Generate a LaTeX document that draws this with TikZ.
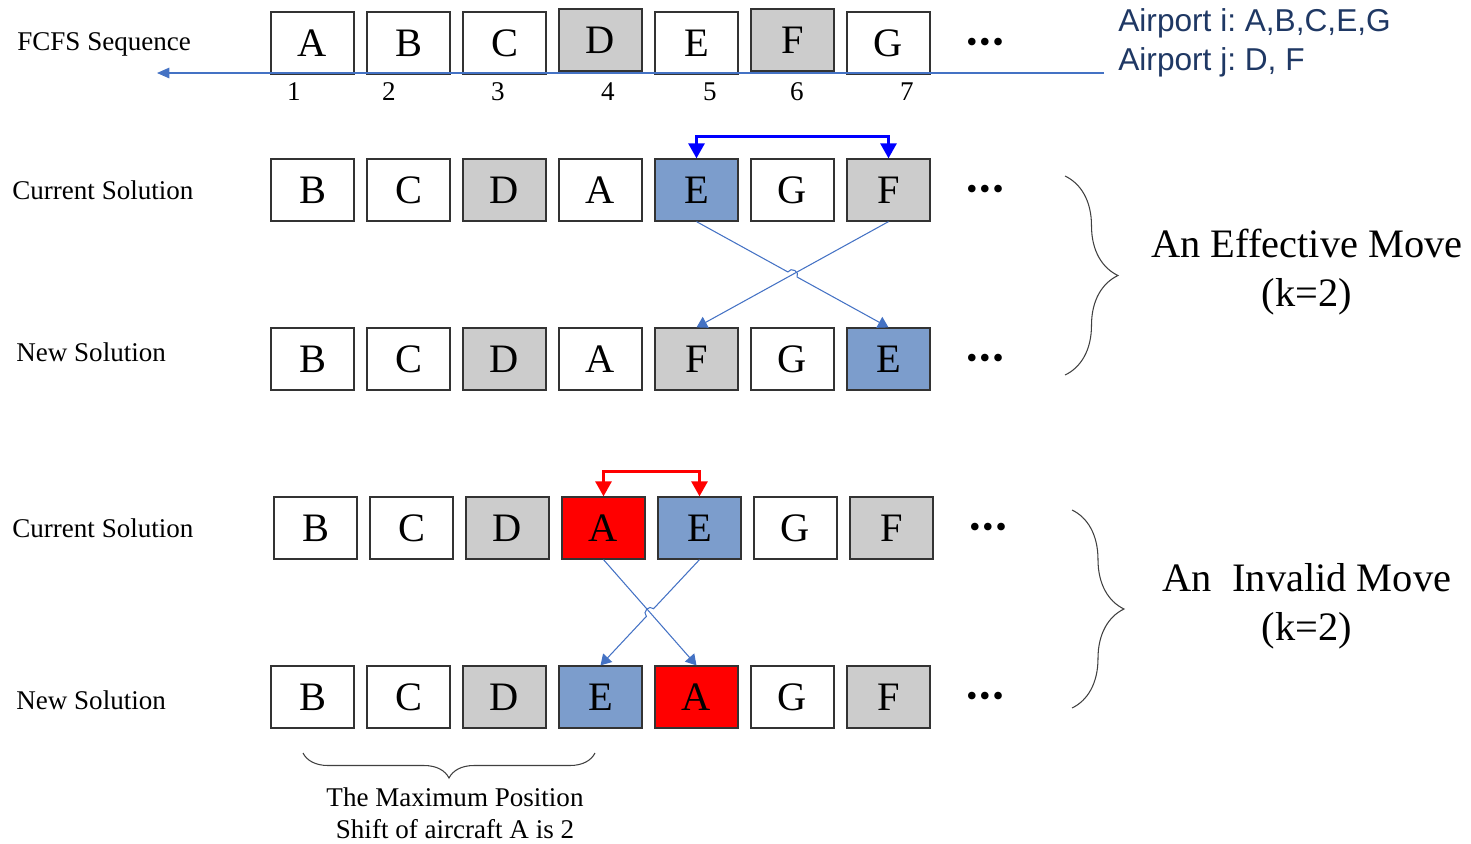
\documentclass[tikz,border=0pt]{standalone}
\usepackage{fontspec}
\setmainfont{Liberation Serif}
\newfontfamily\notefont{Liberation Sans}
\usetikzlibrary{arrows.meta,calc,decorations.pathreplacing}
\frenchspacing

\definecolor{slotgrey}{RGB}{204,204,204}
\definecolor{slotblue}{RGB}{124,157,204}
\definecolor{seqblue}{RGB}{68,114,196}
\definecolor{notenavy}{RGB}{31,56,100}
\definecolor{swapblue}{RGB}{0,0,255}
\definecolor{swapred}{RGB}{255,0,0}

\newcommand\moreslots{•\hspace{1.2pt}•\hspace{1.2pt}•}

\tikzset{
  slot/.style={draw=black!80,line width=0.7pt,minimum width=1.66cm,minimum height=1.24cm,
    inner sep=0pt,font=\fontsize{23}{27}\selectfont},
  apti/.style={fill=white},
  aptj/.style={fill=slotgrey},
  moved/.style={fill=slotblue},
  bad/.style={fill=swapred},
  rowlabel/.style={anchor=base west,inner sep=0pt,font=\fontsize{15.4}{18}\selectfont},
  posnum/.style={inner sep=0pt,font=\fontsize{15.4}{18}\selectfont},
  moredots/.style={inner sep=0pt,font=\fontsize{18}{22}\selectfont},
  movetext/.style={align=center,inner sep=0pt,font=\fontsize{23}{28}\selectfont},
  swaparrow/.style={line width=1.7pt,{Triangle[length=8.5pt,width=9pt]}-{Triangle[length=8.5pt,width=9pt]}},
  moveline/.style={seqblue,line width=0.6pt,-{Triangle[length=6pt,width=7pt]}},
  bracket/.style={draw=black!75,line width=0.6pt,decorate,decoration={brace,amplitude=#1}},
}

\begin{document}
\begin{tikzpicture}[x=0.02cm,y=-0.02cm]
  \useasboundingbox (0,0) rectangle (1471,843);

  % FCFS order with position numbers
  \foreach \lab/\kind/\dy [count=\i] in {A/apti/0,B/apti/0,C/apti/0,D/aptj/-3,E/apti/0,F/aptj/-3,G/apti/0}
    \node[slot,\kind] (fcfs-\i) at ({312.5+96*(\i-1)},{43+\dy}) {\lab};
  \foreach \x [count=\i] in {294,389,498,608,710,797,907}
    \node[posnum] (num-\i) at (\x,92) {\i};
  \coordinate (seq-in) at (1104,73);
  \coordinate (seq-out) at (157,73);
  \draw[seqblue,line width=0.6pt,-{Triangle[length=7pt,width=6pt]}] (seq-in) -- (seq-out);
  \node[rowlabel] (lab-fcfs) at (17,50) {FCFS Sequence};
  \node[moredots] (dots-0) at (985,45) {\moreslots};
  \node[anchor=base west,inner sep=0pt,text=notenavy,font=\notefont\fontsize{18}{22}\selectfont]
    (note-i) at (1118,31) {Airport i: A,B,C,E,G};
  \node[anchor=base west,inner sep=0pt,text=notenavy,font=\notefont\fontsize{18}{22}\selectfont]
    (note-j) at (1118,70) {Airport j: D, F};

  % effective move: E and F swapped
  \foreach \lab/\kind [count=\i] in {B/apti,C/apti,D/aptj,A/apti,E/moved,G/apti,F/aptj}
    \node[slot,\kind] (cur1-\i) at ({312.5+96*(\i-1)},190) {\lab};
  \foreach \lab/\kind [count=\i] in {B/apti,C/apti,D/aptj,A/apti,F/aptj,G/apti,E/moved}
    \node[slot,\kind] (new1-\i) at ({312.5+96*(\i-1)},359) {\lab};
  \node[rowlabel] (lab-cur1) at (12,199) {Current Solution};
  \node[rowlabel] (lab-new1) at (16,361) {New Solution};
  \node[moredots] (dots-1) at (985,192) {\moreslots};
  \node[moredots] (dots-2) at (985,361) {\moreslots};
  \draw[swaparrow,swapblue] (cur1-5.north) -- ++(0,-22) -| (cur1-7.north);
  \coordinate (hop1) at ($(cur1-5.south)!0.5!(new1-7.north)$);
  \draw[moveline] (cur1-5.south) -- ($(hop1)!3pt!(cur1-5.south)$)
    to[bend left=90,looseness=1.5] ($(hop1)!3pt!(new1-7.north)$) -- (new1-7.north);
  \draw[moveline] (cur1-7.south) -- (new1-5.north);
  \draw[bracket=1.06cm] (1065,176) -- (1065,375);
  \node[movetext] (txt-ok) at (1307,272) {An Effective Move\\(k=2)};

  % invalid move: A and E swapped
  \foreach \lab/\kind [count=\i] in {B/apti,C/apti,D/aptj,A/bad,E/moved,G/apti,F/aptj}
    \node[slot,\kind] (cur2-\i) at ({315.5+96*(\i-1)},528) {\lab};
  \foreach \lab/\kind [count=\i] in {B/apti,C/apti,D/aptj,E/moved,A/bad,G/apti,F/aptj}
    \node[slot,\kind] (new2-\i) at ({312.5+96*(\i-1)},697) {\lab};
  \node[rowlabel] (lab-cur2) at (12,537) {Current Solution};
  \node[rowlabel] (lab-new2) at (16,709) {New Solution};
  \node[moredots] (dots-3) at (988,530) {\moreslots};
  \node[moredots] (dots-4) at (985,699) {\moreslots};
  \draw[swaparrow,swapred] (cur2-4.north) -- ++(0,-25) -| (cur2-5.north);
  \coordinate (hop2) at ($(cur2-5.south)!0.5!(new2-4.north)$);
  \draw[moveline] (cur2-5.south) -- ($(hop2)!3pt!(cur2-5.south)$)
    to[bend right=90,looseness=1.5] ($(hop2)!3pt!(new2-4.north)$) -- (new2-4.north);
  \draw[moveline] (cur2-4.south) -- (new2-5.north);
  \draw[bracket=1.04cm] (1072,510) -- (1072,708);
  \node[movetext] (txt-bad) at (1307,606) {An\ \ Invalid Move\\(k=2)};

  % shift limit of A
  \draw[bracket=0.5cm] (595,753) -- (303,753);
  \node[align=center,inner sep=0pt,font=\fontsize{15.4}{18}\selectfont] (txt-shift) at (455,813)
    {The Maximum Position\\Shift of aircraft A is 2};
\end{tikzpicture}
\end{document}
